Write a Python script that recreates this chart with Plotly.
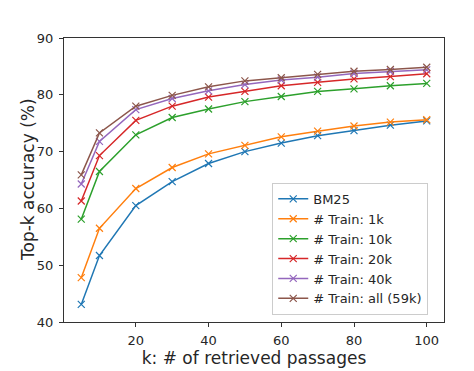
import plotly.graph_objects as go

k = [5, 10, 20, 30, 40, 50, 60, 70, 80, 90, 100]
bm25 = [43.1, 51.7, 60.5, 64.7, 67.9, 70.0, 71.5, 72.8, 73.7, 74.65, 75.4]
train_1k = [47.8, 56.5, 63.5, 67.2, 69.6, 71.1, 72.6, 73.6, 74.5, 75.2, 75.6]
train_10k = [58.1, 66.5, 72.95, 76.0, 77.5, 78.8, 79.7, 80.6, 81.05, 81.6, 82.0]
train_20k = [61.3, 69.3, 75.5, 78.0, 79.6, 80.6, 81.6, 82.2, 82.8, 83.2, 83.7]
train_40k = [64.3, 71.8, 77.4, 79.35, 80.7, 81.8, 82.6, 83.1, 83.75, 84.1, 84.4]
train_all = [65.9, 73.3, 78.0, 79.9, 81.4, 82.45, 83.0, 83.6, 84.15, 84.45, 84.85]

series = [
    ("BM25", bm25, "#1f77b4"),
    ("# Train: 1k", train_1k, "#ff7f0e"),
    ("# Train: 10k", train_10k, "#2ca02c"),
    ("# Train: 20k", train_20k, "#d62728"),
    ("# Train: 40k", train_40k, "#9467bd"),
    ("# Train: all (59k)", train_all, "#8c564b"),
]

fig = go.Figure()
for name, vals, color in series:
    fig.add_trace(go.Scatter(
        x=k, y=vals, name=name, mode="lines+markers",
        line=dict(color=color, width=1.5),
        marker=dict(symbol="x-thin", size=7, line=dict(color=color, width=1.2)),
    ))

font_family = "DejaVu Sans"
# page body has an 8px default margin, so the figure is 8px smaller
fig.update_layout(
    width=466, height=363,
    margin=dict(l=56, r=30, t=30, b=49),
    paper_bgcolor="white", plot_bgcolor="white",
    font=dict(family=font_family, color="#262626", size=13),
    showlegend=True,
    legend=dict(
        x=0.548, y=0.025, xanchor="left", yanchor="bottom",
        bgcolor="rgba(255,255,255,0.8)", bordercolor="#cccccc", borderwidth=1,
        font=dict(size=13, family=font_family, color="#262626"),
        tracegroupgap=0, itemwidth=30,
    ),
    annotations=[dict(
        text="Top-k accuracy (%)", xref="paper", yref="paper",
        x=0, y=0.5, xshift=-36, xanchor="center", yanchor="middle",
        textangle=-90, showarrow=False, font=dict(size=17, color="#262626"),
    )],
)
fig.update_xaxes(
    range=[0.25, 104.75], tickvals=[20, 40, 60, 80, 100],
    showgrid=False, zeroline=False, automargin=False,
    showline=True, linecolor="#333333", linewidth=1, mirror=True,
    ticks="outside", ticklen=4, tickcolor="#333333",
    tickfont=dict(size=13), ticklabelstandoff=2,
    title=dict(text="k: # of retrieved passages", font=dict(size=17), standoff=0),
)
fig.update_yaxes(
    range=[40, 90], tickvals=[40, 50, 60, 70, 80, 90],
    showgrid=False, zeroline=False, automargin=False,
    showline=True, linecolor="#333333", linewidth=1, mirror=True,
    ticks="outside", ticklen=4, tickcolor="#333333",
    tickfont=dict(size=13), ticklabelstandoff=3,
)

fig.write_html("out.html")
